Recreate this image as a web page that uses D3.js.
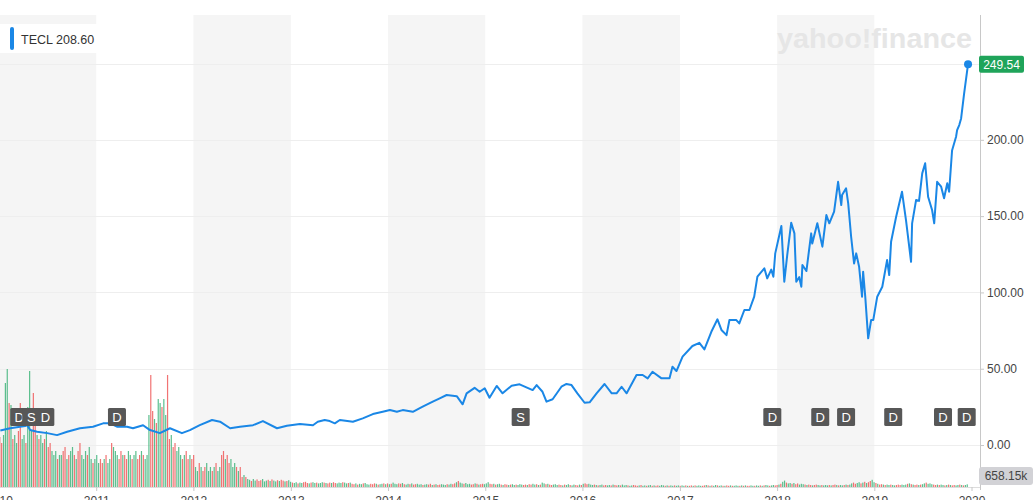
<!DOCTYPE html>
<html>
<head>
<meta charset="utf-8">
<script src="https://cdn.jsdelivr.net/npm/d3@7"></script>
<style>
  body { margin: 0; background: #fff; }
  svg { display: block; font-family: "Liberation Sans", Arial, Helvetica, sans-serif; }
</style>
</head>
<body>
<svg id="chart" width="1035" height="500"></svg>
<script>
// ---------------------------------------
// 1. Data
// ---------------------------------------
const ticker = "TECL";
const legendValue = "208.60";
const lastVolumeLabel = "658.15k";

const priceDates = [
  "2010-01-06","2010-02-12","2010-04-09","2010-04-17","2010-04-28","2010-05-24","2010-07-01","2010-08-07",
  "2010-09-14","2010-11-01","2010-12-20","2011-01-27","2011-02-22","2011-03-20","2011-04-27","2011-05-19",
  "2011-06-26","2011-07-22","2011-08-28","2011-10-05","2011-11-19","2011-12-19","2012-01-25","2012-03-11",
  "2012-04-10","2012-05-18","2012-06-24","2012-08-12","2012-09-18","2012-11-10","2012-12-17","2013-02-04",
  "2013-03-25","2013-04-12","2013-05-08","2013-05-27","2013-06-15","2013-07-04","2013-08-22","2013-09-28",
  "2013-11-05","2013-12-12","2014-01-08","2014-02-03","2014-02-25","2014-04-04","2014-05-11","2014-06-18",
  "2014-07-14","2014-08-09","2014-09-16","2014-10-08","2014-10-23","2014-11-22","2014-12-11","2014-12-30",
  "2015-01-17","2015-02-13","2015-03-07","2015-04-10","2015-05-10","2015-06-28","2015-07-13","2015-08-04",
  "2015-08-19","2015-09-11","2015-10-14","2015-11-02","2015-11-21","2015-12-13","2016-01-09","2016-01-28",
  "2016-02-23","2016-03-24","2016-04-20","2016-05-08","2016-05-27","2016-06-15","2016-07-22","2016-08-14",
  "2016-09-02","2016-09-20","2016-10-24","2016-11-23","2016-12-04","2016-12-19","2017-01-11","2017-02-17",
  "2017-03-15","2017-04-03","2017-04-29","2017-05-22","2017-06-06","2017-06-25","2017-07-06","2017-08-01",
  "2017-08-12","2017-08-31","2017-09-19","2017-10-07","2017-10-19","2017-11-14","2017-11-25","2017-12-10",
  "2017-12-18","2017-12-25","2018-01-17","2018-01-28","2018-02-08","2018-02-23","2018-03-07","2018-03-14",
  "2018-03-25","2018-04-02","2018-04-06","2018-04-21","2018-05-09","2018-05-13","2018-06-01","2018-06-20",
  "2018-07-05","2018-07-16","2018-08-03","2018-08-18","2018-08-30","2018-09-02","2018-09-17","2018-09-25",
  "2018-10-06","2018-10-17","2018-10-25","2018-11-05","2018-11-16","2018-11-20","2018-11-28","2018-12-09",
  "2018-12-20","2018-12-28","2019-01-12","2019-01-31","2019-02-18","2019-02-26","2019-03-05","2019-03-24",
  "2019-04-15","2019-04-30","2019-05-19","2019-05-23","2019-06-07","2019-06-18","2019-06-30","2019-07-11",
  "2019-07-22","2019-08-06","2019-08-14","2019-08-25","2019-09-09","2019-09-20","2019-10-02","2019-10-09",
  "2019-10-20","2019-11-04","2019-11-08","2019-11-16","2019-11-23","2019-12-04","2019-12-19"
];
const priceValues = [
  9.5, 11, 12.4, 13, 9.8, 8.7, 7.8, 6.5,
  8.7, 11, 12, 14.2, 14.2, 12, 12, 11,
  13, 9.8, 7.8, 11, 7.8, 9.8, 13, 16.4,
  15.3, 11, 12, 13, 15.7, 11, 12.6, 13.8,
  13, 15.3, 16.4, 15.7, 14.2, 16.4, 15.3, 17.5,
  20.3, 21.8, 22.9, 21.8, 22.9, 21.8, 25.1, 28.4,
  30.6, 32.8, 32, 26.7, 33.9, 37.5, 34.9, 37.2,
  31, 38.7, 33.9, 38.9, 39.8, 36, 39.3, 34.9,
  28.4, 30, 38.2, 40, 39.3, 33.9, 27.7, 28,
  33.9, 40, 33.9, 33.9, 38.2, 33.9, 45.9, 45.9,
  43.7, 48, 43.7, 43.7, 51.3, 48.5, 57.9, 64.9,
  67, 62.7, 74.2, 82.4, 75.4, 72, 81.9, 81.9,
  79.7, 88.5, 88.5, 97.2, 110.3, 115.8, 109.2, 115,
  110.3, 125.6, 143.5, 107, 124.5, 145.7, 138.7, 107,
  110, 103.7, 118, 114, 138.7, 132, 145.3, 130,
  150.7, 145.3, 152.9, 172.5, 157.3, 163.8, 168.2, 158.4,
  136.5, 119, 125.6, 116.8, 97.2, 113.6, 97.2, 69.9,
  81.9, 81.9, 97.2, 103.7, 121.2, 111.4, 133.2, 149.6,
  166, 147.4, 120.1, 145.3, 160.6, 160, 178, 184.6,
  162.7, 154, 145.3, 172.5, 169.3, 161.7, 171.5, 166,
  193, 202, 206.4, 209.7, 214, 230, 249.54
];

// weekly volume in millions of shares, first week starts 2010-01-04
const volumeStart = "2010-01-04";
const volume2010 = [12.5,11,13,26,29.5,21,20.5,12,13,11,14,21,12,13,11,20,29,14,23.5,17,13,12,13,11,12,14,10,11,
  9,8,9,7,8,8,9,10,7,8,9,10,8,7,9,11,8,7,9,8,10,7,6,7];
const volume2011 = [8,6,7,6,7,8,6,7,11,10,9,8,7,9,8,8,7,9,8,7,8,9,7,8,9,8,7,8,18,28,19,17,16,22,21,20,22,18,28,
  12,13,10,11,9,10,8,7,8,9,7,8,7];
const volume2012 = [8,5,4,6,5,4,5,6,4,5,4,5,6,4,5,8,9,7,8,6,7,5,6,5,4,5,2.5,3,2.5,2,1.8,1.5,2,1.6,1.9,1.5,1.7,2,
  1.4,1.6,1.8,1.5,1.9,1.6,1.4,1.7,1.5,1.8,1.6,1.4,1.5,1.7];
const volume2013 = [1.3,1.1,1,1.2,0.9,1.1,1,1.2,1.3,1,0.9,1.1,1.2,1,1.1,0.9,1,1.2,1.1,1,0.9,1.1,1,1.2,1,0.9,1.1,1,
  1.2,1.1,0.9,1,1.1,0.8,0.7,0.9,0.6,0.8,0.7,0.9,1,0.7,0.6,0.8,0.7,0.9,0.8,0.6,0.7,0.8,0.9,0.7];
const volume2014 = [0.9,0.7,0.8,1.1,0.8,0.7,0.9,0.8,1,0.7,0.6,0.8,0.7,0.9,0.6,0.7,0.8,0.6,0.7,0.5,0.6,0.7,0.6,0.8,
  0.5,0.6,0.7,0.5,0.6,0.7,0.6,0.5,0.7,0.6,0.8,0.7,0.9,1.2,1.5,1.1,0.9,0.8,1,0.7,0.8,0.6,0.7,0.9,0.8,0.6,0.7,0.8,0.7];
const volume2015 = [0.9,1.2,0.8,0.7,0.8,0.6,0.7,0.8,0.6,0.5,0.7,0.6,0.5,0.6,0.7,0.5,0.6,0.5,0.7,0.6,0.5,0.6,0.5,0.7,
  0.6,0.8,0.6,0.7,0.5,0.6,1.1,0.9,0.7,0.8,0.6,0.5,0.6,0.7,0.5,0.6,0.5,0.4,0.6,0.5,0.7,0.5,0.4,0.6,0.5,0.4,0.6,0.5];
const volume2016 = [0.8,0.9,0.7,0.8,0.6,0.5,0.6,0.5,0.4,0.5,0.6,0.4,0.5,0.4,0.5,0.4,0.6,0.5,0.4,0.5,0.4,0.6,0.4,0.5,
  0.4,0.3,0.4,0.5,0.4,0.3,0.4,0.5,0.3,0.4,0.3,0.4,0.5,0.3,0.4,0.3,0.4,0.3,0.5,0.4,0.3,0.4,0.3,0.4,0.3,0.4,0.3,0.4];
const volume2017 = [0.3,0.4,0.3,0.4,0.3,0.3,0.4,0.3,0.4,0.3,0.4,0.3,0.3,0.4,0.5,0.4,0.3,0.4,0.3,0.5,0.4,0.3,0.4,0.3,
  0.3,0.4,0.3,0.4,0.3,0.3,0.4,0.3,0.3,0.4,0.3,0.4,0.3,0.3,0.4,0.3,0.3,0.4,0.3,0.4,0.3,0.4,0.5,0.4,0.3,0.4,0.5,0.4];
const volume2018 = [0.5,0.6,0.8,1.3,1.6,1.1,0.9,1,0.8,1,0.7,0.9,0.6,0.8,0.7,0.6,0.5,0.6,0.5,0.4,0.5,0.6,0.5,0.4,
  0.5,0.4,0.5,0.4,0.5,0.4,0.5,0.6,0.5,0.4,0.5,0.4,0.5,0.6,0.5,0.6,0.9,1.1,0.8,1,1.2,0.9,1.1,1.3,1,1.2,1.5,1.8];
const volume2019 = [1.2,1,0.8,0.6,0.7,0.6,0.5,0.6,0.5,0.6,0.5,0.4,0.5,0.6,0.5,0.6,0.5,0.6,0.8,0.9,0.7,0.6,0.5,0.6,
  0.5,0.6,0.7,0.9,1.1,0.8,0.9,0.7,0.6,0.5,0.6,0.5,0.6,0.5,0.4,0.5,0.6,0.5,0.4,0.5,0.4,0.5,0.6,0.5,0.4,0.5,0.658];

// 1 = up week (green), 0 = down week (red)
const volumeUp = [
  "0011101011001101110010110100111011001011010011101101",
  "1100101101110010011011001011100101101100100111010010",
  "0110100111010110010011101001011011000111010110100101",
  "1011011000101101110100100111011010010110111000101101",
  "0101110010110100111011001010011101100101101110010100",
  "1110010110100101101110010011010110100111001011011001",
  "0100111010110011010010111011000101101101001110101101",
  "1011010010111001010110110100101110101001101101011011",
  "0010110110100111010010011011101001011010110011010100",
  "1101001011011000111010100101101110010110101001101011"
].join("");

const yearTicks = [2010, 2011, 2012, 2013, 2014, 2015, 2016, 2017, 2018, 2019, 2020];
const shadedYears = [2010, 2012, 2014, 2016, 2018];
const priceTicks = [0, 50, 100, 150, 200];
const gridValues = [0, 50, 100, 150, 200, 250];

const eventDates = ["2010-03-18","2010-05-02","2010-06-24","2011-03-20","2015-05-14","2017-12-14",
  "2018-06-12","2018-09-17","2019-03-13","2019-09-16","2019-12-14"];
const eventTypes = ["D","S","D","D","S","D","D","D","D","D","D"];

// ---------------------------------------
// 2. Layout and scales
// ---------------------------------------
const width = 1035, height = 500;
const plotLeft = 0, plotRight = 980, plotTop = 15, plotBottom = 487;
const lineColor = "#1a87e6";

const parse = d3.timeParse("%Y-%m-%d");
const prices = priceDates.map((d, i) => ({ date: parse(d), value: priceValues[i] }));

const volumes = [].concat(volume2010, volume2011, volume2012, volume2013, volume2014,
  volume2015, volume2016, volume2017, volume2018, volume2019)
  .map((v, i) => ({ date: d3.timeDay.offset(parse(volumeStart), 7 * i), value: v, up: volumeUp[i] !== "0" }));

const x = d3.scaleTime()
  .domain([new Date(2010, 0, 1), new Date(2020, 0, 1)])
  .range([-1, 971.5]);
const y = d3.scaleLinear().domain([-27.5, 281.8]).range([plotBottom, plotTop]);
const yVol = d3.scaleLinear().domain([0, 30]).range([plotBottom, plotBottom - 120]);

const svg = d3.select("#chart");

svg.append("defs").append("clipPath").attr("id", "plotClip")
  .append("rect").attr("x", plotLeft).attr("y", 0)
  .attr("width", plotRight - plotLeft).attr("height", plotBottom);

// ---------------------------------------
// 3. Background year bands + watermark
// ---------------------------------------
svg.append("g").selectAll("rect")
  .data(shadedYears)
  .join("rect")
  .attr("x", d => Math.max(plotLeft, x(new Date(d, 0, 1))))
  .attr("width", d => Math.min(plotRight, x(new Date(d + 1, 0, 1))) - Math.max(plotLeft, x(new Date(d, 0, 1))))
  .attr("y", plotTop)
  .attr("height", plotBottom - plotTop)
  .attr("fill", "#f5f5f5");

svg.append("text")
  .attr("x", 777).attr("y", 48)
  .attr("textLength", 195).attr("lengthAdjust", "spacingAndGlyphs")
  .style("font-size", "27px").style("font-weight", "bold")
  .attr("fill", "#e6e6e6")
  .text("yahoo!finance");

// gridlines
svg.append("g").selectAll("line")
  .data(gridValues)
  .join("line")
  .attr("x1", plotLeft).attr("x2", plotRight)
  .attr("y1", d => Math.round(y(d)) + 0.5).attr("y2", d => Math.round(y(d)) + 0.5)
  .attr("stroke", "#eeeeee");

// ---------------------------------------
// 4. Volume bars
// ---------------------------------------
svg.append("g").attr("clip-path", "url(#plotClip)")
  .selectAll("rect")
  .data(volumes)
  .join("rect")
  .attr("x", d => x(d.date) - 0.6)
  .attr("width", 1.2)
  .attr("y", d => yVol(d.value))
  .attr("height", d => plotBottom - yVol(d.value))
  .attr("fill", d => d.up ? "#3fb47a" : "#ee5b5b")
  .attr("opacity", 0.85);

// ---------------------------------------
// 5. Price line
// ---------------------------------------
const line = d3.line().x(d => x(d.date)).y(d => y(d.value));
svg.append("path")
  .datum(prices)
  .attr("clip-path", "url(#plotClip)")
  .attr("fill", "none")
  .attr("stroke", lineColor)
  .attr("stroke-width", 2)
  .attr("stroke-linejoin", "round")
  .attr("d", line);

const last = prices[prices.length - 1];
svg.append("circle")
  .attr("cx", x(last.date)).attr("cy", y(last.value)).attr("r", 4)
  .attr("fill", lineColor);

// ---------------------------------------
// 6. Event markers (dividends / splits)
// ---------------------------------------
const ev = svg.append("g").attr("clip-path", "url(#plotClip)")
  .selectAll("g")
  .data(eventDates.map((d, i) => ({ date: parse(d), type: eventTypes[i] })))
  .join("g")
  .attr("transform", d => `translate(${x(d.date)},417)`);
ev.append("rect")
  .attr("x", -9).attr("y", -9).attr("width", 18).attr("height", 18).attr("rx", 1.5)
  .attr("fill", "#575757");
ev.append("text")
  .attr("text-anchor", "middle").attr("dy", "0.36em")
  .style("font-size", "13px")
  .attr("fill", "#fff")
  .text(d => d.type);

// ---------------------------------------
// 7. Axes
// ---------------------------------------
const yAxis = svg.append("g")
  .attr("transform", `translate(${plotRight},0)`)
  .call(d3.axisRight(y).tickValues(priceTicks).tickFormat(d3.format(".2f")).tickSize(4).tickPadding(3));
yAxis.select(".domain").attr("d", `M0.5,${plotTop}V${plotBottom + 3}`).attr("stroke", "#c8c8c8");
yAxis.selectAll(".tick line").attr("stroke", "#c8c8c8");
yAxis.selectAll(".tick text").style("font-size", "12px").attr("fill", "#444")
  .style("font-family", "'Liberation Sans', Arial, sans-serif");

const xAxis = svg.append("g")
  .attr("transform", `translate(0,${plotBottom})`)
  .call(d3.axisBottom(x).tickValues(yearTicks.map(d => new Date(d, 0, 1)))
    .tickFormat(d3.timeFormat("%Y")).tickSize(4).tickPadding(5));
xAxis.select(".domain").attr("stroke", "#dddddd").attr("d", `M${plotLeft},0.5H${plotRight}`);
xAxis.selectAll(".tick line").attr("stroke", "#c8c8c8");
xAxis.selectAll(".tick text").style("font-size", "12px").attr("fill", "#444")
  .style("font-family", "'Liberation Sans', Arial, sans-serif");

// ---------------------------------------
// 8. Current price + volume tags
// ---------------------------------------
const tagY = y(last.value);
svg.append("rect")
  .attr("x", 979).attr("y", tagY - 8.5).attr("width", 45).attr("height", 17).attr("rx", 2)
  .attr("fill", "#1fa45a");
svg.append("text")
  .attr("x", 1001.5).attr("y", tagY).attr("dy", "0.36em").attr("text-anchor", "middle")
  .style("font-size", "12px").attr("fill", "#fff")
  .text(d3.format(".2f")(last.value));

svg.append("rect")
  .attr("x", 979).attr("y", 467).attr("width", 54).attr("height", 18).attr("rx", 3)
  .attr("fill", "#d2d2d6");
svg.append("text")
  .attr("x", 1006).attr("y", 476).attr("dy", "0.36em").attr("text-anchor", "middle")
  .style("font-size", "12px").attr("fill", "#444")
  .text(lastVolumeLabel);

// ---------------------------------------
// 9. Legend
// ---------------------------------------
svg.append("rect").attr("x", 0).attr("y", 24).attr("width", 97).attr("height", 29).attr("fill", "#fff");
svg.append("rect").attr("x", 10).attr("y", 27).attr("width", 4).attr("height", 23).attr("rx", 2)
  .attr("fill", lineColor);
svg.append("text").attr("x", 21).attr("y", 44)
  .style("font-size", "12.5px").attr("fill", "#333")
  .text(ticker);
svg.append("text").attr("x", 56).attr("y", 44)
  .style("font-size", "12.5px").attr("fill", "#333")
  .text(legendValue);
</script>
</body>
</html>
